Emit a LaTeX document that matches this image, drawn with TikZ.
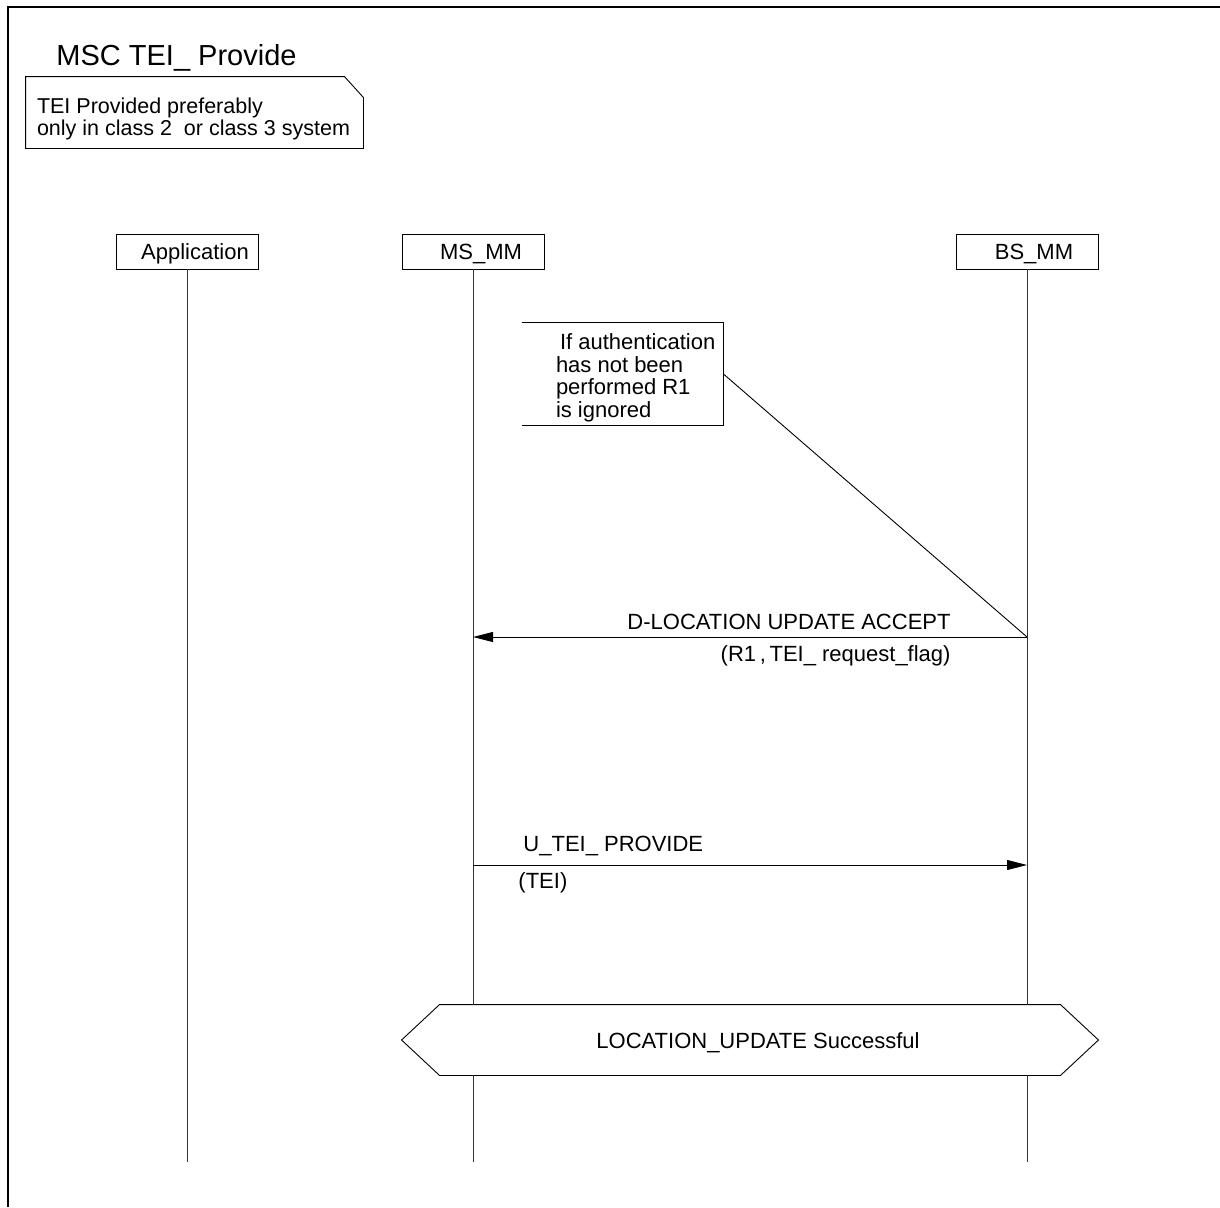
\documentclass[tikz,border=0pt]{standalone}
\usepackage{fontspec}
\setmainfont{Liberation Sans}
\usetikzlibrary{arrows.meta,positioning}

\begin{document}
\begin{tikzpicture}[
  x=1pt, y=-1pt, >={Triangle[length=20pt,width=10pt]},
  line width=0.9pt,
  every node/.style={font=\fontsize{22}{22.5}\selectfont, inner sep=0pt},
  instance/.style={draw, minimum width=142pt, minimum height=35pt, text height=16pt, text depth=0pt},
  lifeline/.style={draw=black!80},
  msg/.style={draw, ->},
  frame line/.style={draw, line width=1.6pt},
  note/.style={minimum width=337pt, minimum height=71pt},
  comment/.style={minimum width=201pt, minimum height=102pt},
  condition/.style={minimum width=696pt, minimum height=70pt, text height=16pt, text depth=0pt}
]
\useasboundingbox (0,0) rectangle (1220,1207);

% frame and heading
\coordinate (frametr) at (1220,7);
\coordinate (frametl) at (8,7);
\coordinate (framebl) at (8,1207);
\path[frame line] (frametr) -- (frametl) -- (framebl);
\node[anchor=west, font=\fontsize{29}{30}\selectfont] (title) at (56,58) {MSC TEI\_ Provide};

\node[note] (remark) at (194.5,112.5) {};
\draw (remark.north west) -- ([xshift=-19pt]remark.north east) -- ([yshift=-21pt]remark.north east)
  -- (remark.south east) -- (remark.south west) -- cycle;
\node[right=11pt of remark.west, align=left, yshift=-6.5pt, font=\fontsize{21.5}{22.5}\selectfont] (remarktext)
  {TEI Provided preferably\\only in class 2\ \ or class 3 system};

% instances
\node[instance] (app)  at (187,251.5) {\hspace*{16pt}Application};
\node[instance] (msmm) at (473,251.5) {\hspace*{16pt}MS\_MM};
\node[instance] (bsmm) at (1027,251.5) {\hspace*{14pt}BS\_MM};

\coordinate (y1) at (0,637);
\coordinate (y2) at (0,865);
\coordinate (yend) at (0,1162);

% condition
\node[condition] (cond) at (750,1040) {\hspace*{16pt}LOCATION\_UPDATE Successful};
\draw (cond.west) -- ([xshift=38pt]cond.north west) -- ([xshift=-38pt]cond.north east)
  -- (cond.east) -- ([xshift=-38pt]cond.south east) -- ([xshift=38pt]cond.south west) -- cycle;

% lifelines
\path[lifeline] (app) -- (app |- yend);
\path[lifeline] (msmm) -- (msmm |- cond.north);
\path[lifeline] (msmm |- cond.south) -- (msmm |- yend);
\path[lifeline] (bsmm) -- (bsmm |- cond.north);
\path[lifeline] (bsmm |- cond.south) -- (bsmm |- yend);

% comment
\node[comment] (cmt) at (622.5,374) {};
\draw (cmt.north west) -- (cmt.north east) -- (cmt.south east) -- (cmt.south west);
\node[right=34pt of cmt.west, align=left, yshift=-4pt] (cmttext)
  {\hspace*{4pt}If authentication\\has not been\\performed R1\\is ignored};
\draw (cmt.east) -- (bsmm |- y1);

% messages
\path[msg] (bsmm |- y1) -- (msmm |- y1);
\node[anchor=east] (accept) at (951,622) {D-LOCATION UPDATE ACCEPT};
\node[anchor=east] (acceptpar) at (951,656) {(R1\,,\,TEI\_ request\_flag)};

\path[msg] (msmm |- y2) -- (bsmm |- y2);
\node[anchor=west] (provide) at (523,846) {U\_TEI\_ PROVIDE};
\node[anchor=west] (providepar) at (518,883) {(TEI)};
\end{tikzpicture}
\end{document}
